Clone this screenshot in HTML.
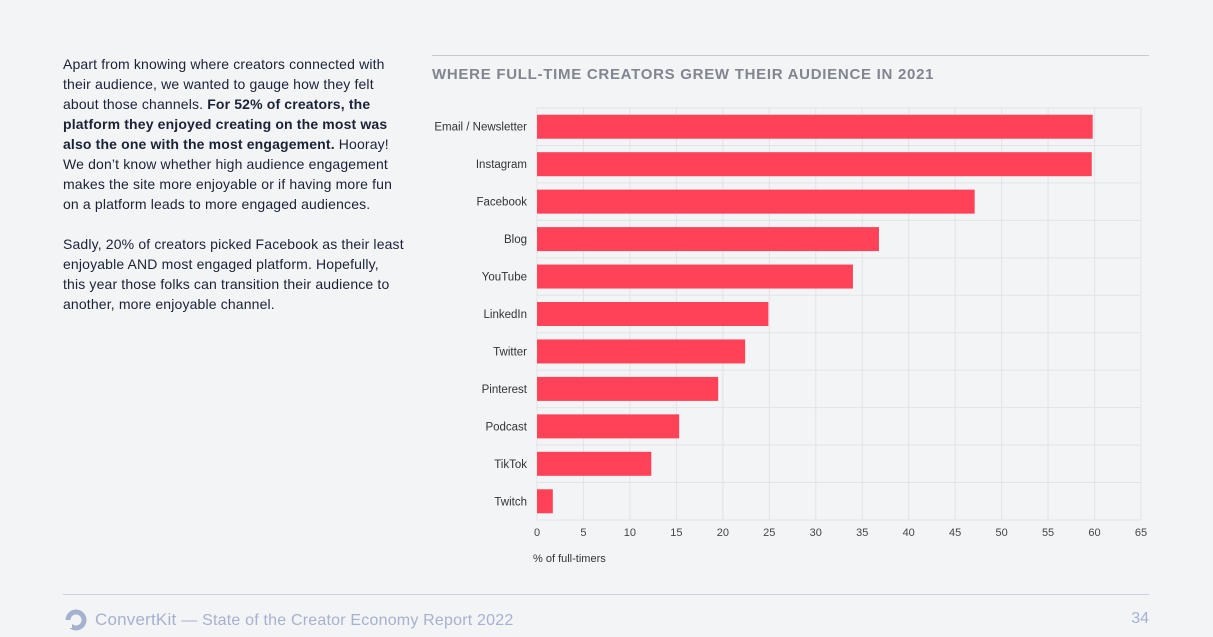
<!DOCTYPE html>
<html><head><meta charset="utf-8"><style>
body{margin:0;width:1213px;height:637px;background:#f3f4f6;font-family:"Liberation Sans",sans-serif;position:relative;overflow:hidden}
.txt{position:absolute;left:63px;top:54px;width:360px;font-size:14px;line-height:20px;color:#1b2235;white-space:nowrap;letter-spacing:0.15px}
.txt p{margin:0 0 20px 0}
.title{position:absolute;left:432px;top:66px;font-size:15px;font-weight:bold;color:#808590;letter-spacing:0.72px}
.topline{position:absolute;left:432px;top:55px;width:717px;height:1px;background:#c8cad2}
.footline{position:absolute;left:63px;top:594px;width:1086px;height:1px;background:#c8d0e4}
.foot{position:absolute;left:95px;top:610px;font-size:17px;color:#a6b1d0;letter-spacing:0.2px}
.page{position:absolute;right:64px;top:610px;font-size:16px;color:#a6b1d0}
</style></head><body>
<div class="txt">
<p>Apart from knowing where creators connected with<br>their audience, we wanted to gauge how they felt<br>about those channels. <b>For 52% of creators, the<br>platform they enjoyed creating on the most was<br>also the one with the most engagement.</b> Hooray!<br>We don’t know whether high audience engagement<br>makes the site more enjoyable or if having more fun<br>on a platform leads to more engaged audiences.</p>
<p>Sadly, 20% of creators picked Facebook as their least<br>enjoyable AND most engaged platform. Hopefully,<br>this year those folks can transition their audience to<br>another, more enjoyable channel.</p>
</div>
<div class="topline"></div>
<div class="title">WHERE FULL-TIME CREATORS GREW THEIR AUDIENCE IN 2021</div>
<svg id="chart" width="1213" height="637" style="position:absolute;left:0;top:0"></svg>
<div class="footline"></div>
<svg style="position:absolute;left:64px;top:608px" width="24" height="24"><circle cx="12" cy="12" r="8" fill="none" stroke="#a6b1d0" stroke-width="5"/><rect x="0" y="12" width="8" height="8" fill="#f3f4f6"/></svg>
<div class="foot">ConvertKit <span style="font-size:16px">— State of the Creator Economy Report 2022</span></div>
<div class="page">34</div>
<script>
const categories=["Email / Newsletter","Instagram","Facebook","Blog","YouTube","LinkedIn","Twitter","Pinterest","Podcast","TikTok","Twitch"];
const values=[59.8,59.7,47.1,36.8,34,24.9,22.4,19.5,15.3,12.3,1.7];
const ticks=[0,5,10,15,20,25,30,35,40,45,50,55,60,65];
(function(){
const svg=document.getElementById('chart');const NS="http://www.w3.org/2000/svg";
const x0=537,x1=1141,yTop=108,yBottom=520,xMax=65;
const sx=v=>x0+(v/xMax)*(x1-x0);
const step=(yBottom-yTop)/categories.length;
const sy=i=>yTop+step*i+step/2;
function el(t,a){const e=document.createElementNS(NS,t);for(const k in a)e.setAttribute(k,a[k]);svg.appendChild(e);return e;}
ticks.forEach(t=>{const l=el('line',{x1:sx(t),x2:sx(t),y1:yTop,y2:yBottom,stroke:'#e2e3e7','stroke-width':1});


const tx=el('text',{x:sx(t),y:536,'text-anchor':'middle','font-size':11,fill:'#444',"font-family":"Liberation Sans"});tx.textContent=t;

});
for(let i=0;i<=categories.length;i++){const l=el('line',{x1:x0,x2:x1,y1:yTop+step*i,y2:yTop+step*i,stroke:'#e2e3e7','stroke-width':1});

}
categories.forEach((c,i)=>{const r=el('rect',{x:x0,y:sy(i)-12,width:sx(values[i])-x0,height:24,fill:'#ff4258'});


const t=el('text',{x:527,y:sy(i)+4,'text-anchor':'end','font-size':11.5,fill:'#333',"font-family":"Liberation Sans"});t.textContent=c;

});
const at=el('text',{x:533,y:562,'font-size':11,fill:'#333',"font-family":"Liberation Sans"});at.textContent="% of full-timers";


})();
</script>
</body></html>
